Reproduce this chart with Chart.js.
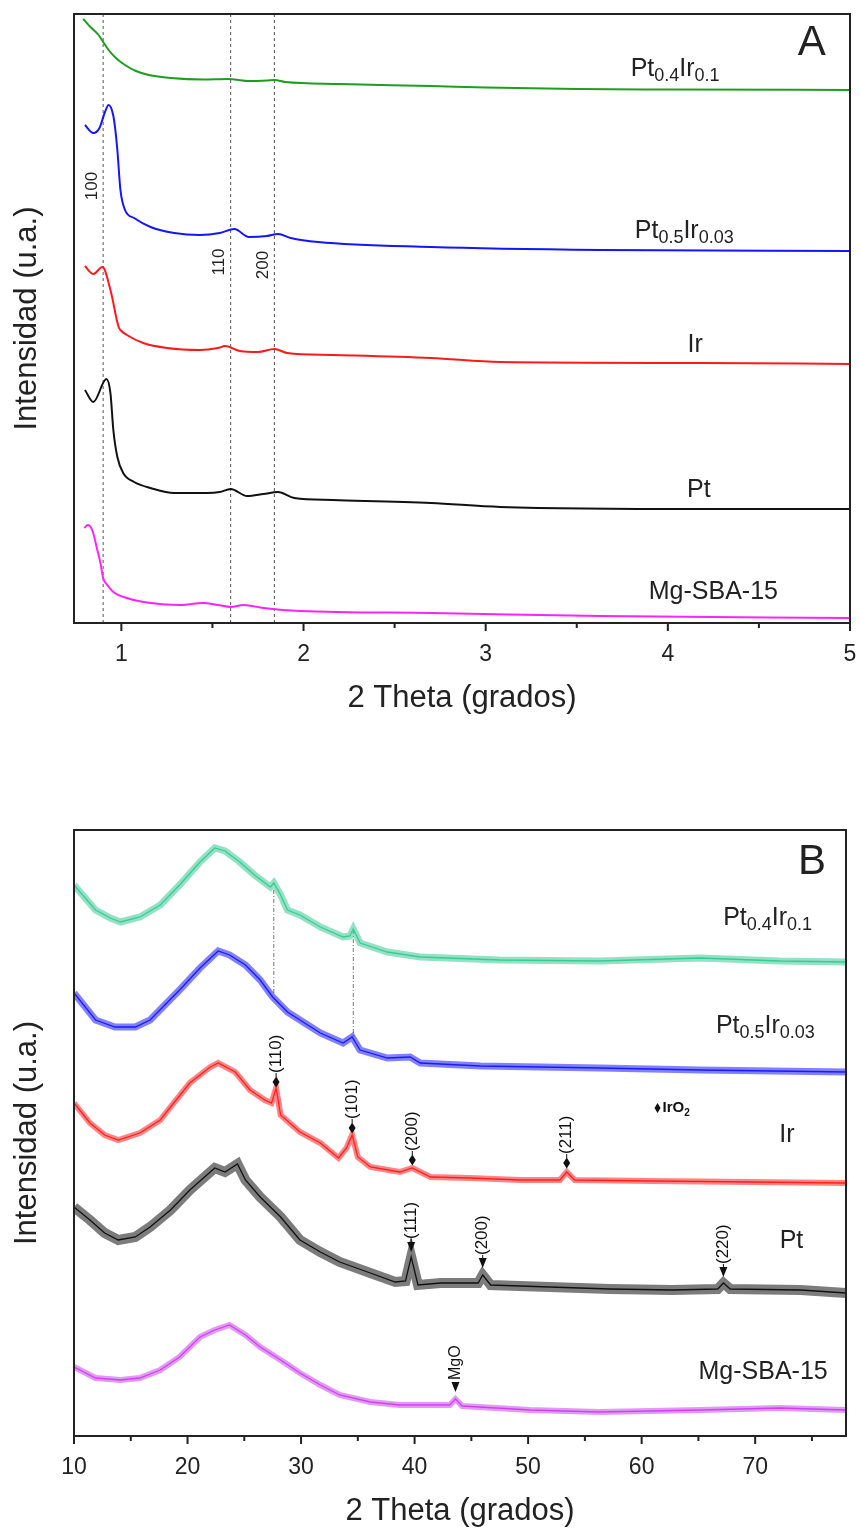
<!DOCTYPE html>
<html>
<head>
<meta charset="utf-8">
<script src="https://cdn.jsdelivr.net/npm/chart.js@4.4.0/dist/chart.umd.min.js"></script>
<style>
  body { margin: 0; background: #fff; }
  #wrapA { position: absolute; left: 0; top: 0; width: 860px; height: 719px; }
  #wrapB { position: absolute; left: 0; top: 790px; width: 860px; height: 742px; }
</style>
</head>
<body>
<div id="wrapA"><canvas id="chartA"></canvas></div>
<div id="wrapB"><canvas id="chartB"></canvas></div>
<script>
// ---- panel A : low angle XRD (2 theta 0.74 - 5) ----
const aPtIr41_x = [0.79,0.83,0.875,0.90,0.93,0.97,1.02,1.08,1.15,1.27,1.45,1.58,1.62,1.70,1.80,1.84,1.90,2.20,2.70,3.00,3.50,4.00,5.00];
const aPtIr41_y = [604,596,588,581,573,565,558,552,548,545,543.5,544,543.5,542,542.5,543,541,539,537,535.5,534,533.5,533];
const aPtIr53_x = [0.80,0.846,0.88,0.91,0.93,0.955,0.967,0.978,0.995,1.02,1.07,1.16,1.29,1.43,1.54,1.62,1.70,1.80,1.86,1.93,2.08,2.70,3.63,5.00];
const aPtIr53_y = [498,490,495,511,518,508,493,473,433,413,405,396,390,388,390,394,386,387,389,385,381,376,373,372];
const aIr_x = [0.80,0.846,0.896,0.94,0.985,0.995,1.03,1.12,1.25,1.43,1.53,1.57,1.65,1.75,1.84,1.91,2.16,2.70,3.08,4.18,5.00];
const aIr_y = [357,349,356,333,296,293,288,280,275,273,275,277,272,271,274,270,268,265,261,260,259];
const aPt_x = [0.80,0.846,0.918,0.94,0.956,0.978,1.01,1.07,1.16,1.29,1.47,1.54,1.60,1.69,1.78,1.86,1.95,2.16,2.70,3.08,4.18,5.00];
const aPt_y = [233,221,244,230,193,166,150,141,135,130,130,131,134,127,129,131,125,123,120,116,114,114];
const aMg_x = [0.797,0.815,0.84,0.868,0.885,0.90,0.923,0.956,1.03,1.16,1.32,1.45,1.53,1.60,1.67,1.78,1.98,2.70,3.63,5.00];
const aMg_y = [95,98,93,73,60,45,38,31,25,20,18,20,18,16,18,15,12,10,7,5];

const ticksA = [1, 2, 3, 4, 5];
const minorA = [1.5, 2.5, 3.5, 4.5];
const refLinesA = [0.90, 1.60, 1.84];
const refLabelsA = ['100', '110', '200'];

// ---- panel B : wide angle XRD (2 theta 10 - 78) ----
const bPtIr41_x = [10.0,11.9,13.2,14.1,15.8,17.6,19.3,21.1,22.4,23.3,24.6,25.9,27.3,27.6,28.2,28.8,29.9,31.7,33.7,34.3,34.6,35.2,37.6,40.5,47.5,56.3,65.2,72.2,78.0];
const bPtIr41_y = [551,526,518,514,519,531,551,574,588,585,574,561,549,553,541,526,521,509,499,500,507,493,484,479,476,475,478,475,474];
const bPtIr53_x = [10.0,11.9,13.6,15.4,16.7,18.0,19.3,21.1,22.7,23.7,25.1,26.4,27.5,28.8,29.9,31.7,33.7,34.5,35.2,37.6,39.6,40.5,45.8,56.3,65.2,78.0];
const bPtIr53_y = [443,416,409,409,416,431,446,468,485,481,471,456,439,424,416,403,393,399,386,378,379,373,370,368,366,364];
const bIr_x = [10.0,11.4,12.7,13.9,15.8,17.6,18.5,20.2,22.0,22.7,24.2,25.5,26.8,27.4,27.8,28.2,29.9,31.7,33.3,34.0,34.5,35.0,36.1,38.7,39.8,41.4,44.9,49.3,52.8,53.4,54.1,60.8,69.6,78.0];
const bIr_y = [333,313,301,296,303,316,329,353,369,373,364,346,336,333,348,321,304,293,278,288,301,279,269,264,268,259,258,256,256,264,256,255,254,253];
const bPt_x = [10.0,11.4,12.7,13.9,15.4,16.7,18.5,20.2,21.5,22.4,23.3,24.4,25.1,26.4,28.2,29.9,31.7,33.4,36.1,38.3,39.2,39.7,40.3,42.3,45.6,46.0,46.7,51.9,57.2,62.7,66.7,67.2,67.8,74.0,78.0];
const bPt_y = [229,216,203,196,199,209,226,246,259,268,264,272,256,239,219,196,184,174,163,154,155,179,151,153,153,161,151,149,147,146,147,153,147,146,143];
const bMg_x = [10.0,11.9,14.1,15.8,17.6,19.3,21.1,22.4,23.7,25.1,26.4,28.2,29.9,31.7,33.4,36.1,38.7,43.1,43.6,44.2,50.2,56.3,65.2,72.2,78.0];
const bMg_y = [69,58,56,58,66,79,99,106,111,101,89,76,63,51,41,34,31,31,37,30,26,24,26,28,26];

const ticksB = [10, 20, 30, 40, 50, 60, 70];
const minorB = [15, 25, 35, 45, 55, 65, 75];

// IrO2 reflections (diamonds) and Pt reflections (triangles)
const irPeaks = [27.8, 34.5, 39.8, 53.4];
const irHkl = ['(110)', '(101)', '(200)', '(211)'];
const irMarkY = [354, 308, 276, 273];
const ptPeaks = [39.7, 46.0, 67.2];
const ptHkl = ['(111)', '(200)', '(220)'];
const ptMarkY = [189, 173, 164];
const mgoPeak = 43.6;
const mgoMarkY = 49;
const guideX = [27.6, 34.6];
const guideTop = [546, 506];
const guideBottom = [441, 399];

// sample names, parts flagged 1 are subscripts
const names = [
  [['Pt',0],['0.4',1],['Ir',0],['0.1',1]],
  [['Pt',0],['0.5',1],['Ir',0],['0.03',1]],
  [['Ir',0]],
  [['Pt',0]],
  [['Mg-SBA-15',0]]
];
const nameA_x = [4.04, 4.09, 4.15, 4.17, 4.25];
const nameA_y = [554, 392, 278, 133, 31];
const nameB_x = [71.1, 70.9, 72.8, 73.2, 70.7];
const nameB_y = [518, 410, 301, 195, 64];

const FONT = "'Liberation Sans', Arial, Helvetica, sans-serif";
Chart.defaults.font.family = FONT;
Chart.defaults.color = '#222';

function line(xs, ys, color, width, smooth) {
  return {
    data: xs.map((x, i) => ({ x: x, y: ys[i] })),
    borderColor: color,
    borderWidth: width,
    pointRadius: 0,
    fill: false,
    tension: 0,
    cubicInterpolationMode: smooth ? 'monotone' : 'default'
  };
}

function drawName(ctx, parts, cx, cy, size) {
  const sub = Math.round(size * 0.7);
  let w = 0;
  parts.forEach(p => { ctx.font = (p[1] ? sub : size) + 'px ' + FONT; w += ctx.measureText(p[0]).width; });
  let x = cx - w / 2;
  ctx.textAlign = 'left';
  ctx.textBaseline = 'middle';
  parts.forEach(p => {
    ctx.font = (p[1] ? sub : size) + 'px ' + FONT;
    ctx.fillText(p[0], x, p[1] ? cy + size * 0.3 : cy);
    x += ctx.measureText(p[0]).width;
  });
}

function vtext(ctx, txt, x, y, size, align) {
  ctx.save();
  ctx.translate(x, y);
  ctx.rotate(-Math.PI / 2);
  ctx.font = size + 'px ' + FONT;
  ctx.textAlign = align;
  ctx.textBaseline = 'middle';
  ctx.fillText(txt, 0, 0);
  ctx.restore();
}

function diamond(ctx, x, y, w, h) {
  ctx.beginPath();
  ctx.moveTo(x, y - h / 2); ctx.lineTo(x + w / 2, y); ctx.lineTo(x, y + h / 2); ctx.lineTo(x - w / 2, y);
  ctx.closePath(); ctx.fill();
}

function triDown(ctx, x, yTip, w, h) {
  ctx.beginPath();
  ctx.moveTo(x - w / 2, yTip - h); ctx.lineTo(x + w / 2, yTip - h); ctx.lineTo(x, yTip);
  ctx.closePath(); ctx.fill();
}

function frameTicks(major, minor) {
  return {
    id: 'frameTicks',
    afterDatasetsDraw(chart) {
      const { ctx, chartArea: a, scales: { x } } = chart;
      ctx.save();
      ctx.strokeStyle = '#222';
      ctx.lineWidth = 2;
      ctx.strokeRect(a.left, a.top, a.right - a.left, a.bottom - a.top);
      ctx.beginPath();
      major.forEach(v => { const p = x.getPixelForValue(v); ctx.moveTo(p, a.bottom); ctx.lineTo(p, a.bottom + 8); });
      minor.forEach(v => { const p = x.getPixelForValue(v); ctx.moveTo(p, a.bottom); ctx.lineTo(p, a.bottom + 5); });
      ctx.stroke();
      ctx.restore();
    }
  };
}

function axes(xmin, xmax, ymax, ticks, xh, yw) {
  return {
    x: {
      type: 'linear', min: xmin, max: xmax,
      afterBuildTicks: s => { s.ticks = ticks.map(v => ({ value: v })); },
      ticks: { padding: 18, font: { size: 23 }, color: '#222', maxRotation: 0, autoSkip: false },
      grid: { display: false, drawTicks: false },
      border: { display: false },
      title: { display: true, text: '2 Theta (grados)', font: { size: 31 }, color: '#222', padding: { top: 0, bottom: 2 } },
      afterFit: s => { s.height = xh; s.paddingLeft = 0; s.paddingRight = 0; }
    },
    y: {
      min: 0, max: ymax,
      ticks: { display: false },
      grid: { display: false, drawTicks: false },
      border: { display: false },
      title: { display: true, text: 'Intensidad (u.a.)', font: { size: 31 }, color: '#222', padding: { top: 9, bottom: 0 } },
      afterFit: s => { s.width = yw; s.paddingTop = 0; s.paddingBottom = 0; }
    }
  };
}

// ---------------- chart A ----------------
const notesA = {
  id: 'notesA',
  beforeDatasetsDraw(chart) {
    const { ctx, chartArea: a, scales: { x } } = chart;
    ctx.save();
    ctx.strokeStyle = '#555';
    ctx.lineWidth = 1;
    ctx.setLineDash([3, 3]);
    refLinesA.forEach(v => {
      const p = x.getPixelForValue(v);
      ctx.beginPath(); ctx.moveTo(p, a.top); ctx.lineTo(p, a.bottom); ctx.stroke();
    });
    ctx.restore();
  },
  afterDatasetsDraw(chart) {
    const { ctx, scales: { x, y } } = chart;
    ctx.save();
    ctx.fillStyle = '#222';
    const refY = [437, 361, 358];
    refLinesA.forEach((v, i) => vtext(ctx, refLabelsA[i], x.getPixelForValue(v) - 11, y.getPixelForValue(refY[i]), 17, 'center'));
    names.forEach((n, i) => drawName(ctx, n, x.getPixelForValue(nameA_x[i]), y.getPixelForValue(nameA_y[i]), 25));
    ctx.font = '42px ' + FONT;
    ctx.textAlign = 'center'; ctx.textBaseline = 'middle';
    ctx.fillText('A', x.getPixelForValue(4.79), y.getPixelForValue(580));
    ctx.restore();
  }
};

new Chart(document.getElementById('chartA'), {
  type: 'line',
  data: {
    datasets: [
      line(aPtIr41_x, aPtIr41_y, '#1e9e1e', 2, true),
      line(aPtIr53_x, aPtIr53_y, '#1414ff', 2, true),
      line(aIr_x, aIr_y, '#ff1a1a', 2, true),
      line(aPt_x, aPt_y, '#111111', 2, true),
      line(aMg_x, aMg_y, '#ff22ff', 2, true)
    ]
  },
  options: {
    responsive: true, maintainAspectRatio: false, animation: false, devicePixelRatio: 1,
    layout: { padding: { top: 14, right: 10, left: 0, bottom: 0 } },
    plugins: { legend: { display: false }, tooltip: { enabled: false } },
    scales: axes(0.74, 5, 609, ticksA, 96, 74)
  },
  plugins: [notesA, frameTicks(ticksA, minorA)]
});

// ---------------- chart B ----------------
const notesB = {
  id: 'notesB',
  beforeDatasetsDraw(chart) {
    const { ctx, scales: { x, y } } = chart;
    ctx.save();
    ctx.strokeStyle = '#777';
    ctx.lineWidth = 1;
    ctx.setLineDash([4, 2, 1, 2]);
    guideX.forEach((v, i) => {
      const p = x.getPixelForValue(v);
      ctx.beginPath(); ctx.moveTo(p, y.getPixelForValue(guideTop[i])); ctx.lineTo(p, y.getPixelForValue(guideBottom[i])); ctx.stroke();
    });
    ctx.restore();
  },
  afterDatasetsDraw(chart) {
    const { ctx, scales: { x, y } } = chart;
    ctx.save();
    ctx.fillStyle = '#111';
    ctx.strokeStyle = '#111';
    ctx.lineWidth = 1;
    irPeaks.forEach((v, i) => {
      const px = x.getPixelForValue(v), py = y.getPixelForValue(irMarkY[i]);
      diamond(ctx, px, py, 7, 11);
      ctx.beginPath(); ctx.moveTo(px, py - 5); ctx.lineTo(px, py - 9); ctx.stroke();
      vtext(ctx, irHkl[i], px, py - 9, 17, 'left');
    });
    ptPeaks.forEach((v, i) => {
      const px = x.getPixelForValue(v), py = y.getPixelForValue(ptMarkY[i]);
      triDown(ctx, px, py + 5, 8, 10);
      ctx.beginPath(); ctx.moveTo(px, py - 5); ctx.lineTo(px, py - 8); ctx.stroke();
      vtext(ctx, ptHkl[i], px, py - 8, 17, 'left');
    });
    const mx = x.getPixelForValue(mgoPeak), my = y.getPixelForValue(mgoMarkY);
    triDown(ctx, mx, my + 5, 8, 10);
    vtext(ctx, 'MgO', mx, my - 7, 16, 'left');

    // IrO2 key
    const kx = x.getPixelForValue(61.4), ky = y.getPixelForValue(328);
    diamond(ctx, kx, ky, 6, 10);
    ctx.textAlign = 'left'; ctx.textBaseline = 'middle';
    ctx.font = 'bold 15px ' + FONT;
    ctx.fillText('IrO', kx + 5, ky);
    const w = ctx.measureText('IrO').width;
    ctx.font = 'bold 10px ' + FONT;
    ctx.fillText('2', kx + 5 + w, ky + 5);

    ctx.fillStyle = '#222';
    names.forEach((n, i) => drawName(ctx, n, x.getPixelForValue(nameB_x[i]), y.getPixelForValue(nameB_y[i]), 25));
    ctx.font = '42px ' + FONT;
    ctx.textAlign = 'center'; ctx.textBaseline = 'middle';
    ctx.fillText('B', x.getPixelForValue(75.0), y.getPixelForValue(574));
    ctx.restore();
  }
};

const bSeries = [
  [bPtIr41_x, bPtIr41_y, '58,203,149', 7],
  [bPtIr53_x, bPtIr53_y, '26,26,255', 7],
  [bIr_x, bIr_y, '255,32,32', 6],
  [bPt_x, bPt_y, '17,17,17', 10],
  [bMg_x, bMg_y, '204,68,238', 6]
];
const bDatasets = [];
bSeries.forEach(s => {
  bDatasets.push(line(s[0], s[1], 'rgba(' + s[2] + ',0.55)', s[3], false));
  bDatasets.push(line(s[0], s[1], 'rgb(' + s[2] + ')', 1.3, false));
});

new Chart(document.getElementById('chartB'), {
  type: 'line',
  data: { datasets: bDatasets },
  options: {
    responsive: true, maintainAspectRatio: false, animation: false, devicePixelRatio: 1,
    layout: { padding: { top: 40, right: 14, left: 0, bottom: 0 } },
    plugins: { legend: { display: false }, tooltip: { enabled: false } },
    scales: axes(10, 78, 606, ticksB, 96, 74)
  },
  plugins: [notesB, frameTicks(ticksB, minorB)]
});
</script>
</body>
</html>
